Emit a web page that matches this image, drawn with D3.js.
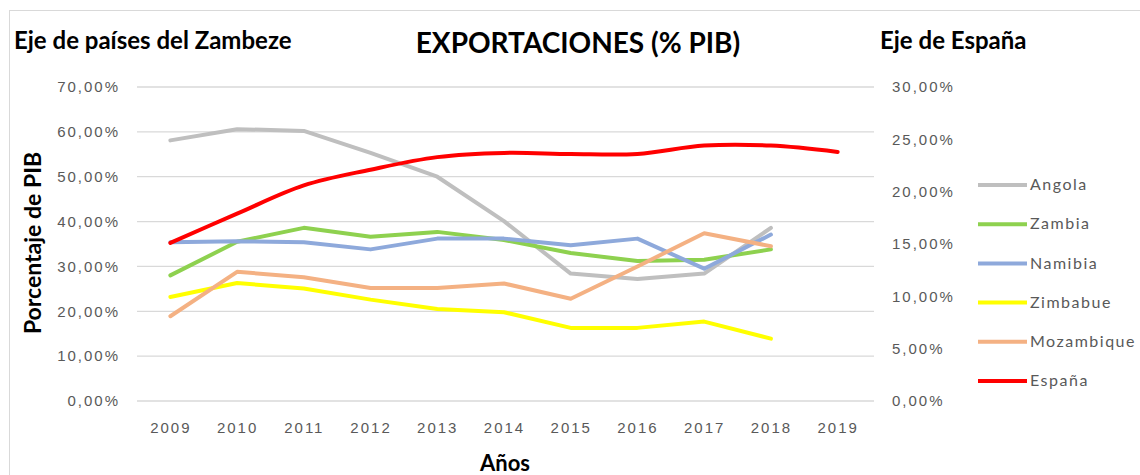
<!DOCTYPE html>
<html>
<head>
<meta charset="utf-8">
<script src="https://cdn.jsdelivr.net/npm/d3@7"></script>
<style>
  body { margin: 0; background: #fff; font-family: Lato, "Open Sans", sans-serif; }
  .tick text { fill: #595959; font-size: 15px; letter-spacing: 2px; }
  .bold { font-weight: bold; fill: #000; }
</style>
</head>
<body>
<div id="chart"></div>
<script>
const years = ["2009", "2010", "2011", "2012", "2013", "2014", "2015", "2016", "2017", "2018", "2019"];
const leftTicks = [0, 10, 20, 30, 40, 50, 60, 70];
const rightTicks = [0, 5, 10, 15, 20, 25, 30];

const angola = [58.1, 60.6, 60.2, 55.3, 50.0, 40.1, 28.4, 27.2, 28.4, 38.6];
const zambia = [28.0, 35.5, 38.6, 36.6, 37.7, 35.9, 33.0, 31.2, 31.5, 33.8];
const namibia = [35.4, 35.6, 35.4, 33.8, 36.2, 36.2, 34.7, 36.2, 29.5, 37.1];
const zimbabue = [23.2, 26.3, 25.1, 22.6, 20.5, 19.8, 16.3, 16.3, 17.7, 13.9];
const mozambique = [18.9, 28.8, 27.6, 25.2, 25.2, 26.2, 22.8, 30.0, 37.4, 34.5];
const espana = [15.1, 17.9, 20.6, 22.1, 23.3, 23.7, 23.6, 23.6, 24.4, 24.4, 23.8];

const series = [
  { name: "Angola", values: angola, color: "#BFBFBF", axis: "left" },
  { name: "Zambia", values: zambia, color: "#8ED14F", axis: "left" },
  { name: "Namibia", values: namibia, color: "#8EA9DB", axis: "left" },
  { name: "Zimbabue", values: zimbabue, color: "#FFFF00", axis: "left" },
  { name: "Mozambique", values: mozambique, color: "#F4B183", axis: "left" },
  { name: "España", values: espana, color: "#FF0000", axis: "right" }
];

const width = 1140, height = 475;
const svg = d3.select("#chart").append("svg")
  .attr("width", width).attr("height", height);

// chart border
svg.append("rect")
  .attr("x", 9.5).attr("y", 10.5)
  .attr("width", 1140).attr("height", 480)
  .attr("fill", "none").attr("stroke", "#d9d9d9");

const x = d3.scalePoint().domain(years).range([137, 871]).padding(0.5);
const yL = d3.scaleLinear().domain([0, 70]).range([401, 87]);
const yR = d3.scaleLinear().domain([0, 30]).range([401, 87]);

const fmt = d => d3.format(".2f")(d).replace(".", ",") + "%";

// grid
svg.append("g")
  .selectAll("line")
  .data(leftTicks)
  .enter().append("line")
  .attr("x1", 137).attr("x2", 874)
  .attr("y1", d => yL(d)).attr("y2", d => yL(d))
  .attr("stroke", "#d9d9d9").attr("stroke-width", 1.3);

const gl = svg.append("g")
  .attr("transform", "translate(120,0)")
  .call(d3.axisLeft(yL).tickValues(leftTicks).tickFormat(fmt).tickSize(0).tickPadding(0));
gl.select(".domain").remove();

const gr = svg.append("g")
  .attr("transform", "translate(892,0)")
  .call(d3.axisRight(yR).tickValues(rightTicks).tickFormat(fmt).tickSize(0).tickPadding(0));
gr.select(".domain").remove();

const gx = svg.append("g")
  .attr("transform", "translate(0,414)")
  .call(d3.axisBottom(x).tickSize(0).tickPadding(8));
gx.select(".domain").remove();

// lines
series.forEach(s => {
  const y = s.axis === "left" ? yL : yR;
  const line = d3.line()
    .x((d, i) => x(years[i]))
    .y(d => y(d))
    .curve(s.axis === "right" ? d3.curveCatmullRom.alpha(0.5) : d3.curveLinear);
  svg.append("path")
    .datum(s.values)
    .attr("fill", "none")
    .attr("stroke", s.color)
    .attr("stroke-width", 4)
    .attr("stroke-linejoin", "round")
    .attr("stroke-linecap", "round")
    .attr("d", line);
});

// titles
svg.append("text").attr("class", "bold")
  .attr("x", 578).attr("y", 53).attr("text-anchor", "middle")
  .attr("font-size", 28).text("EXPORTACIONES (% PIB)");
svg.append("text").attr("class", "bold")
  .attr("x", 14).attr("y", 49).attr("font-size", 24)
  .text("Eje de países del Zambeze");
svg.append("text").attr("class", "bold")
  .attr("x", 880).attr("y", 49).attr("font-size", 24)
  .text("Eje de España");
svg.append("text").attr("class", "bold")
  .attr("transform", "translate(41,243) rotate(-90)")
  .attr("text-anchor", "middle").attr("font-size", 23)
  .text("Porcentaje de PIB");
svg.append("text").attr("class", "bold")
  .attr("x", 505).attr("y", 471).attr("text-anchor", "middle")
  .attr("font-size", 22).text("Años");

// legend
const legend = svg.append("g")
  .selectAll("g")
  .data(series)
  .enter().append("g")
  .attr("transform", (d, i) => "translate(978," + (185 + i * 39.2) + ")");
legend.append("line")
  .attr("x1", 0).attr("x2", 49)
  .attr("stroke", d => d.color).attr("stroke-width", 4);
legend.append("text")
  .attr("x", 52).attr("y", 0).attr("dy", "0.32em")
  .attr("font-size", 16).attr("letter-spacing", 1.5).attr("fill", "#595959")
  .text(d => d.name);
</script>
</body>
</html>
